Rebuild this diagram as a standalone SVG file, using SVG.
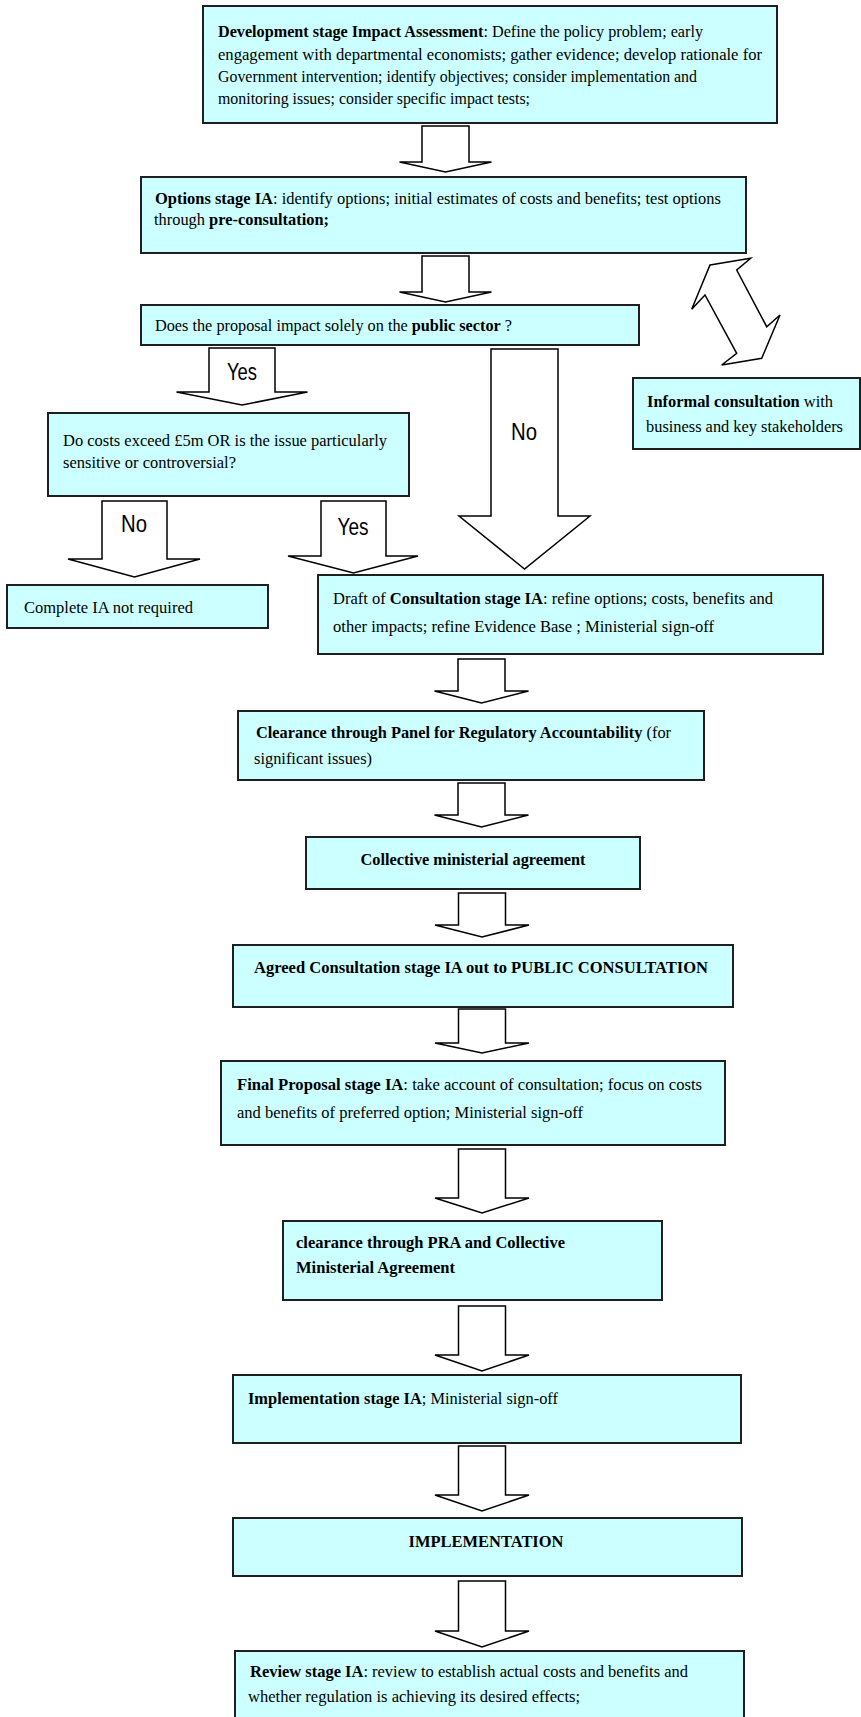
<svg xmlns="http://www.w3.org/2000/svg" width="861" height="1717" viewBox="0 0 861 1717">
<style>
.box{fill:#ccffff;stroke:#1f1f1f;stroke-width:2}
.t{font-family:"Liberation Serif","Times New Roman",serif;font-size:16px;fill:#000}
.b{font-weight:bold}
.c{text-anchor:middle}
.arr{fill:#fff;stroke:#000;stroke-width:1.5;stroke-linejoin:miter}
.lbl{font-family:"Liberation Sans",Arial,sans-serif;font-size:24px;fill:#000;text-anchor:middle}
</style>
<rect width="861" height="1717" fill="#fff"/>
<g id="connectors">
<path class="arr" d="M422,126 V162 H399.5 L445.5,172 L491.5,162 H469 V126 Z"/>
<path class="arr" d="M422,256 V292 H399.5 L445.5,302 L491.5,292 H469 V256 Z"/>
<path class="arr" d="M209,348 V392 H176.5 L242,405 L307.5,392 H275 V348 Z"/>
<text class="lbl" x="242" y="380" textLength="30" lengthAdjust="spacingAndGlyphs">Yes</text>
<path class="arr" d="M491,349 V516 H459 L524.5,569 L590,516 H558 V349 Z"/>
<text class="lbl" x="524" y="440" textLength="26" lengthAdjust="spacingAndGlyphs">No</text>
<path class="arr" d="M102,501 V559 H68 L134.5,577 L200,559 H167 V501 Z"/>
<text class="lbl" x="134" y="532" textLength="26" lengthAdjust="spacingAndGlyphs">No</text>
<path class="arr" d="M321,501 V556 H288 L353.5,573 L418,556 H386 V501 Z"/>
<text class="lbl" x="353" y="535" textLength="31" lengthAdjust="spacingAndGlyphs">Yes</text>
<polygon class="arr" points="710,265 750.7,258.3 736.7,270 766.7,326.7 780,315 761.7,358.3 721.7,365 736.7,353.3 705,295 691.7,309.3"/>
<path class="arr" d="M458,659 V691 H434.5 L481.5,703 L528.5,691 H505 V659 Z"/>
<path class="arr" d="M458,783 V815 H434.5 L481.5,827 L528.5,815 H505 V783 Z"/>
<path class="arr" d="M458.5,893 V925 H435 L482,937 L529,925 H505.5 V893 Z"/>
<path class="arr" d="M458.5,1009 V1043 H435 L482,1053 L529,1043 H505.5 V1009 Z"/>
<path class="arr" d="M458.5,1149 V1198 H435 L482,1213 L529,1198 H505.5 V1149 Z"/>
<path class="arr" d="M458.5,1306 V1355 H435 L482,1371 L529,1355 H505.5 V1306 Z"/>
<path class="arr" d="M458.5,1446 V1495 H435 L482,1511 L529,1495 H505.5 V1446 Z"/>
<path class="arr" d="M458.5,1581 V1631 H435 L482,1647 L529,1631 H505.5 V1581 Z"/>
</g>
<g id="n1"><rect class="box" x="203" y="6" width="574" height="117"/>
<text class="t" x="218" y="37" textLength="485" lengthAdjust="spacingAndGlyphs"><tspan class="b">Development stage Impact Assessment</tspan>: Define the policy problem; early</text>
<text class="t" x="218" y="60" textLength="544" lengthAdjust="spacingAndGlyphs">engagement with departmental economists;  gather evidence; develop rationale for</text>
<text class="t" x="218" y="82" textLength="479" lengthAdjust="spacingAndGlyphs">Government intervention; identify objectives;  consider implementation and</text>
<text class="t" x="218" y="104" textLength="312" lengthAdjust="spacingAndGlyphs">monitoring issues; consider specific impact tests;</text></g>
<g id="n2"><rect class="box" x="141" y="177" width="605" height="76"/>
<text class="t" x="155" y="204" textLength="566" lengthAdjust="spacingAndGlyphs"><tspan class="b">Options stage IA</tspan>: identify options; initial estimates of costs and benefits; test options</text>
<text class="t" x="154" y="225" textLength="175" lengthAdjust="spacingAndGlyphs">through <tspan class="b">pre-consultation;</tspan></text></g>
<g id="n3"><rect class="box" x="141" y="305" width="498" height="40"/>
<text class="t" x="155" y="331" textLength="357" lengthAdjust="spacingAndGlyphs">Does the proposal impact solely on the <tspan class="b">public sector</tspan> ?</text></g>
<g id="n4"><rect class="box" x="48" y="413" width="361" height="83"/>
<text class="t" x="63" y="446" textLength="324" lengthAdjust="spacingAndGlyphs">Do costs exceed £5m OR is the issue particularly</text>
<text class="t" x="63" y="468" textLength="173" lengthAdjust="spacingAndGlyphs">sensitive or controversial?</text></g>
<g id="n5"><rect class="box" x="633" y="378" width="227" height="71"/>
<text class="t" x="647" y="407" textLength="186" lengthAdjust="spacingAndGlyphs"><tspan class="b">Informal consultation</tspan> with</text>
<text class="t" x="646" y="432" textLength="197" lengthAdjust="spacingAndGlyphs">business and key stakeholders</text></g>
<g id="n6"><rect class="box" x="7" y="585" width="261" height="43"/>
<text class="t" x="24" y="613" textLength="169" lengthAdjust="spacingAndGlyphs">Complete IA not required</text></g>
<g id="n7"><rect class="box" x="318" y="575" width="505" height="79"/>
<text class="t" x="333" y="604" textLength="440" lengthAdjust="spacingAndGlyphs">Draft of <tspan class="b">Consultation stage IA</tspan>: refine options; costs, benefits and</text>
<text class="t" x="333" y="632" textLength="381" lengthAdjust="spacingAndGlyphs">other impacts; refine Evidence Base ; Ministerial sign-off</text></g>
<g id="n8"><rect class="box" x="238" y="711" width="466" height="69"/>
<text class="t" x="256" y="738" textLength="415" lengthAdjust="spacingAndGlyphs"><tspan class="b">Clearance through Panel for Regulatory Accountability</tspan> (for</text>
<text class="t" x="254" y="764" textLength="118" lengthAdjust="spacingAndGlyphs">significant issues)</text></g>
<g id="n9"><rect class="box" x="306" y="837" width="334" height="52"/>
<text class="t b c" x="473" y="865" textLength="225" lengthAdjust="spacingAndGlyphs">Collective ministerial agreement</text></g>
<g id="n10"><rect class="box" x="233" y="945" width="500" height="62"/>
<text class="t b c" x="481" y="973" textLength="454" lengthAdjust="spacingAndGlyphs">Agreed Consultation stage IA out to PUBLIC CONSULTATION</text></g>
<g id="n11"><rect class="box" x="221" y="1061" width="504" height="84"/>
<text class="t" x="237" y="1090" textLength="465" lengthAdjust="spacingAndGlyphs"><tspan class="b">Final Proposal stage IA</tspan>:  take account of consultation; focus on costs</text>
<text class="t" x="237" y="1118" textLength="346" lengthAdjust="spacingAndGlyphs">and benefits of preferred option; Ministerial sign-off</text></g>
<g id="n12"><rect class="box" x="283" y="1221" width="379" height="79"/>
<text class="t b" x="296" y="1248" textLength="269" lengthAdjust="spacingAndGlyphs">clearance through PRA and Collective</text>
<text class="t b" x="296" y="1273" textLength="159" lengthAdjust="spacingAndGlyphs">Ministerial Agreement</text></g>
<g id="n13"><rect class="box" x="233" y="1375" width="508" height="68"/>
<text class="t" x="248" y="1404" textLength="310" lengthAdjust="spacingAndGlyphs"><tspan class="b">Implementation stage IA</tspan>; Ministerial sign-off</text></g>
<g id="n14"><rect class="box" x="233" y="1518" width="509" height="58"/>
<text class="t b c" x="486" y="1547" textLength="155" lengthAdjust="spacingAndGlyphs">IMPLEMENTATION</text></g>
<g id="n15"><rect class="box" x="235" y="1651" width="509" height="90"/>
<text class="t" x="250" y="1677" textLength="438" lengthAdjust="spacingAndGlyphs"><tspan class="b">Review stage IA</tspan>: review to establish actual costs and benefits and</text>
<text class="t" x="248" y="1702" textLength="332" lengthAdjust="spacingAndGlyphs">whether regulation is achieving its desired effects;</text></g>
</svg>
